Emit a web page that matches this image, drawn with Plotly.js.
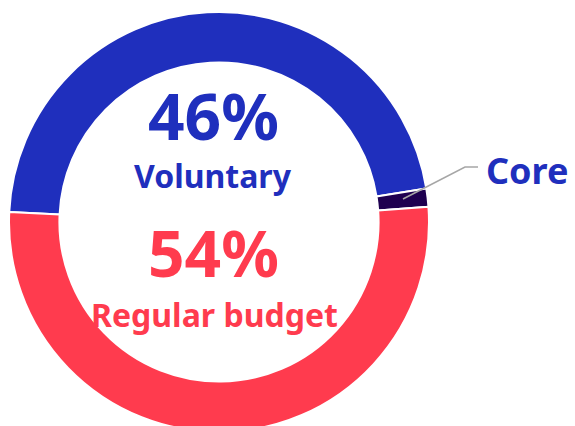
<!DOCTYPE html>
<html>
<head>
<meta charset="utf-8">
<script src="https://cdn.plot.ly/plotly-3.0.1.min.js"></script>
<style>
html, body { margin: 0; padding: 0; overflow: hidden; background: #fff; }
#chart { width: 575px; height: 444px; }
</style>
</head>
<body>
<div id="chart"></div>
<script>
// Data (share of the ring)
var categories = ["Voluntary", "Core", "Regular budget"];
var values = [46.7, 1.4, 51.9];
var colors = ["#1f2fbd", "#1e0050", "#ff3b4e"];
var bigLabels = ["46%", "54%"];
var subLabels = ["Voluntary", "Regular budget"];
var calloutLabel = "Core";

var W = 575, H = 444;
function px(x) { return x / W; }
function py(y) { return 1 - y / H; }

var trace = {
  type: "pie",
  labels: categories,
  values: values,
  sort: false,
  direction: "clockwise",
  rotation: 272.7,
  hole: 0.76,
  textinfo: "none",
  hoverinfo: "label+percent",
  marker: { colors: colors, line: { color: "#ffffff", width: 2 } },
  domain: { x: [px(9), px(429)], y: [0, 1] },
  showlegend: false
};

var font = "Noto Sans, Open Sans, sans-serif";
var layout = {
  width: W, height: H,
  margin: { l: 0, r: 0, t: 0, b: 0 },
  paper_bgcolor: "#fff",
  showlegend: false,
  annotations: [
    { text: "<b>" + bigLabels[0] + "</b>", x: px(213), y: py(115), xref: "paper", yref: "paper",
      xanchor: "center", yanchor: "middle", showarrow: false,
      font: { family: font, size: 64, color: colors[0] } },
    { text: "<b>" + subLabels[0] + "</b>", x: px(213), y: py(175), xref: "paper", yref: "paper",
      xanchor: "center", yanchor: "middle", showarrow: false,
      font: { family: font, size: 32, color: colors[0] } },
    { text: "<b>" + bigLabels[1] + "</b>", x: px(213), y: py(253), xref: "paper", yref: "paper",
      xanchor: "center", yanchor: "middle", showarrow: false,
      font: { family: font, size: 64, color: colors[2] } },
    { text: "<b>" + subLabels[1] + "</b>", x: px(214), y: py(314), xref: "paper", yref: "paper",
      xanchor: "center", yanchor: "middle", showarrow: false,
      font: { family: font, size: 32, color: colors[2] } },
    { text: "<b>" + calloutLabel + "</b>", x: px(484), y: py(171), xref: "paper", yref: "paper",
      xanchor: "left", yanchor: "middle", showarrow: false,
      font: { family: font, size: 36, color: colors[0] } }
  ],
  shapes: [
    { type: "path", xref: "paper", yref: "paper",
      path: "M " + px(403) + " " + py(199) + " L " + px(465) + " " + py(167) + " L " + px(478) + " " + py(167),
      line: { color: "#a6a6a6", width: 1.5 } }
  ]
};

Plotly.newPlot("chart", [trace], layout, { displayModeBar: false, staticPlot: true });
</script>
</body>
</html>
